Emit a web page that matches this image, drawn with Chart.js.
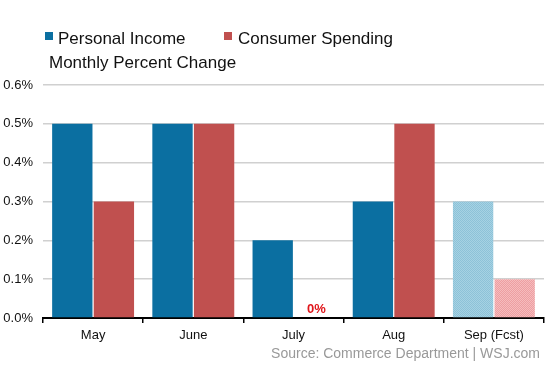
<!DOCTYPE html>
<html>
<style>
body { margin: 0; background: #fff; }
</style>
  <head>
    <meta charset="utf-8">
    <title>Personal Income and Consumer Spending</title>
  </head>
  <body>
    <canvas id="myChart" width="553" height="369"></canvas>

    <script src="https://cdn.jsdelivr.net/npm/chart.js@4/dist/chart.umd.min.js"></script>
    <script type="text/javascript">
      // data
      var months = ['May', 'June', 'July', 'Aug', 'Sep (Fcst)'];
      var income = [0.5, 0.5, 0.2, 0.3, 0.3];
      var spending = [0.3, 0.5, 0, 0.5, 0.1];
      var forecast = [false, false, false, false, true];

      var blue = '#0b6fa1';
      var red = '#c0504f';

      function hatch(base, dot) {
        var c = document.createElement('canvas');
        c.width = 4; c.height = 4;
        var g = c.getContext('2d');
        g.fillStyle = base;
        g.fillRect(0, 0, 4, 4);
        g.fillStyle = dot;
        for (var i = 0; i < 4; i++) {
          g.fillRect(i, i, 1, 1);
          g.fillRect((i + 2) % 4, i, 1, 1);
        }
        return g.createPattern(c, 'repeat');
      }
      var blueHatch = hatch('#a6d2e3', '#8dc2d8');
      var redHatch = hatch('#ee9ea1', '#f5bcbe');

      var overlay = {
        id: 'overlay',
        afterDraw: function (chart) {
          var c = chart.ctx;
          c.save();
          c.textBaseline = 'alphabetic';
          c.font = '17px "Liberation Sans", Arial, sans-serif';
          c.fillStyle = blue;
          c.fillRect(45, 32, 8, 8);
          c.fillStyle = red;
          c.fillRect(224, 32, 8, 8);
          c.fillStyle = '#111';
          c.textAlign = 'left';
          c.fillText('Personal Income', 58, 44);
          c.fillText('Consumer Spending', 238, 44);
          c.fillText('Monthly Percent Change', 49, 68);

          // zero label over July spending
          var bar = chart.getDatasetMeta(1).data[2];
          c.font = 'bold 13px "Liberation Sans", Arial, sans-serif';
          c.fillStyle = '#e0161b';
          c.textAlign = 'center';
          c.fillText('0%', bar.x + 2, bar.y - 5);

          c.font = '14px "Liberation Sans", Arial, sans-serif';
          c.fillStyle = '#999';
          c.textAlign = 'right';
          c.fillText('Source: Commerce Department | WSJ.com', 540, 358);
          c.restore();
        }
      };

      var ctx = document.getElementById('myChart').getContext('2d');
      var chart = new Chart(ctx, {
          type: 'bar',
          data: {
              labels: months,
              datasets: [{
                  label: 'Personal Income',
                  data: income,
                  backgroundColor: forecast.map(function (f) { return f ? blueHatch : blue; }),
                  categoryPercentage: 0.83,
                  barPercentage: 0.97
              }, {
                  label: 'Consumer Spending',
                  data: spending,
                  backgroundColor: forecast.map(function (f) { return f ? redHatch : red; }),
                  categoryPercentage: 0.83,
                  barPercentage: 0.97
              }]
          },
          options: {
            responsive: false,
            animation: false,
            layout: { padding: { top: 85, right: 9, left: 0, bottom: 0 } },
            plugins: {
              legend: { display: false },
              tooltip: { enabled: false }
            },
            scales: {
              x: {
                afterFit: function (s) { s.height = 51; },
                border: { color: '#000', width: 2 },
                grid: { offset: true, drawOnChartArea: false, color: '#000', tickLength: 5, lineWidth: 1.5 },
                ticks: { color: '#111', padding: 5, font: { size: 13, family: '"Liberation Sans", Arial' } }
              },
              y: {
                min: 0, max: 0.6,
                afterFit: function (s) { s.width = 43; },
                border: { display: false },
                grid: { color: '#d0d0d0', lineWidth: 1.5, drawTicks: false },
                ticks: {
                  stepSize: 0.1, padding: 10, color: '#111',
                  font: { size: 13, family: '"Liberation Sans", Arial' },
                  callback: function (v) { return v.toFixed(1) + '%'; }
                }
              }
            }
          },
          plugins: [overlay]
      });
    </script>
  </body>
</html>
